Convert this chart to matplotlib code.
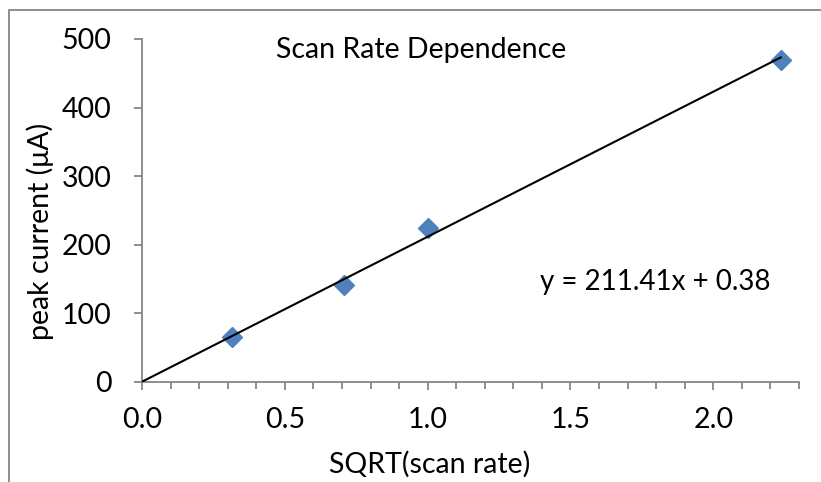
import matplotlib
matplotlib.use("Agg")
import matplotlib.pyplot as plt
from matplotlib.ticker import MultipleLocator
from matplotlib.patches import Rectangle
import numpy as np

x_vals = [0.316, 0.707, 1.0, 2.236]
y_vals = [65, 142, 225, 470]
slope = 211.41
intercept = 0.38
title = "Scan Rate Dependence"
eq_text = "y = 211.41x + 0.38"
x_label = "SQRT(scan rate)"
y_label = "peak current (μA)"

plt.rcParams['font.family'] = ['Lato', 'DejaVu Sans']
W, H = 821, 482
fig = plt.figure(figsize=(W/100, H/100), dpi=100)
gray = '#868686'
fs = 20.5

fig.patches.append(Rectangle((9/W, -0.1), 1.2, (H-10)/H + 0.1, transform=fig.transFigure,
                             fill=False, edgecolor=gray, linewidth=1.3))

ax = fig.add_axes([142/W, (H-382)/H, (799-142)/W, (382-39)/H])
ax.set_xlim(0, 2.3)
ax.set_ylim(0, 500)
for s in ['top', 'right']:
    ax.spines[s].set_visible(False)
for s in ['left', 'bottom']:
    ax.spines[s].set_color(gray)
    ax.spines[s].set_linewidth(1.3)

ax.xaxis.set_major_locator(MultipleLocator(0.5))
ax.xaxis.set_minor_locator(MultipleLocator(0.1))
ax.yaxis.set_major_locator(MultipleLocator(100))
ax.xaxis.set_major_formatter(plt.FuncFormatter(lambda v, p: f"{v:.1f}"))
ax.tick_params(axis='both', which='major', direction='out', length=6, width=1.3, color=gray,
               labelsize=fs)
ax.tick_params(axis='y', which='major', pad=16)
ax.tick_params(axis='x', which='major', pad=12)
ax.tick_params(axis='x', which='minor', direction='out', length=5, width=1.3, color=gray)

xs = np.array([0, max(x_vals)])
ax.plot(x_vals, y_vals, linestyle='none', marker='D', markersize=10.5,
        color='#4F81BD', markeredgecolor='#4F81BD', zorder=2, clip_on=False)
ax.plot(xs, slope*xs + intercept, color='black', linewidth=1.5, zorder=3)

fig.text(421/W, (H-50)/H, title, ha='center', va='center', fontsize=fs)
fig.text(655/W, (H-282)/H, eq_text, ha='center', va='center', fontsize=20)
fig.text(430/W, (H-464)/H, x_label, ha='center', va='center', fontsize=fs)
fig.text(40/W, (H-231)/H, y_label, ha='center', va='center', rotation=90, fontsize=fs)

fig.savefig('out.png', dpi=100)
